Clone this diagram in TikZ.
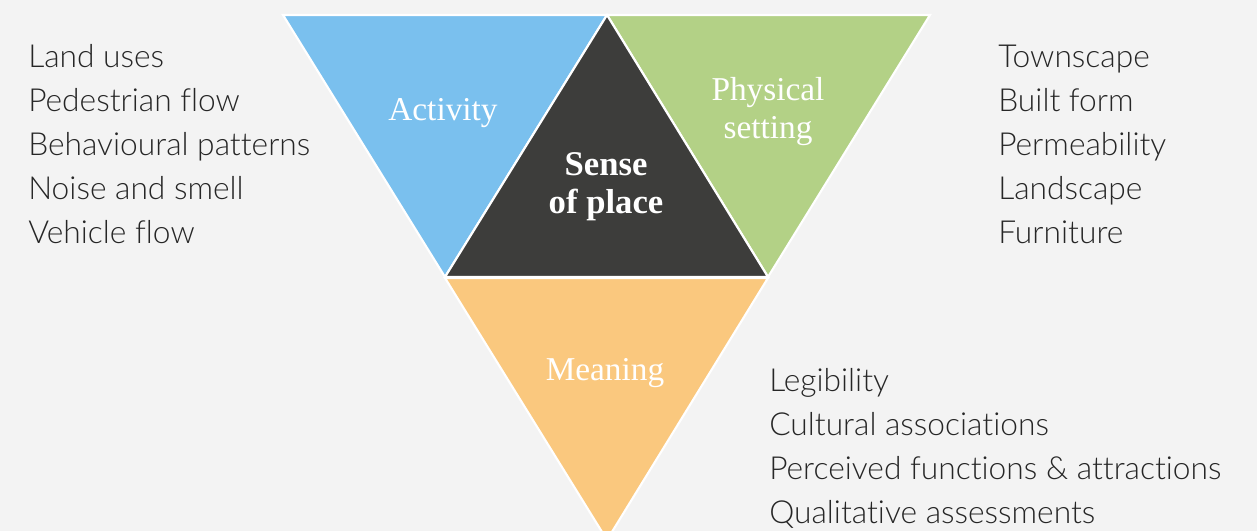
\documentclass[tikz,border=0pt]{standalone}
\usepackage{fontspec}
\setmainfont[Ligatures=NoCommon]{Lato Light}
\newfontfamily\headfont{Liberation Serif}
\definecolor{bgc}{HTML}{F3F3F3}
\definecolor{actc}{HTML}{7AC0EE}
\definecolor{physc}{HTML}{B3D186}
\definecolor{corec}{HTML}{3D3D3B}
\definecolor{meanc}{HTML}{FAC87E}
\definecolor{txtc}{HTML}{262626}
\begin{document}
\begin{tikzpicture}[x=0.75pt,y=-0.75pt,
  tri/.style={draw=white,line width=1.6pt,line join=miter},
  head/.style={text=white,font=\headfont\fontsize{25}{30}\selectfont,align=center,anchor=base},
  corehead/.style={head,font=\headfont\bfseries\fontsize{26}{30}\selectfont},
  item/.style={text=txtc,font=\fontsize{23.8}{28}\selectfont,anchor=base west,inner sep=0pt}]
  \fill[bgc] (0,0) rectangle (1257,531);
  \useasboundingbox (0,0) rectangle (1257,531);
  \begin{scope}
    \clip (0,0) rectangle (1257,531);
    % four triangles
    \filldraw[tri,fill=actc] (283,15) -- (607,15) -- (445,277) -- cycle;
    \filldraw[tri,fill=physc] (607,15) -- (930,15) -- (768,277) -- cycle;
    \filldraw[tri,fill=meanc] (445,278) -- (768,278) -- (607,540) -- cycle;
    \filldraw[tri,fill=corec] (607,15) -- (768,277) -- (445,277) -- cycle;
  \end{scope}
  % triangle labels
  \node[head] (act) at (443,121) {Activity};
  \node[head] (phys1) at (768,101) {Physical};
  \node[head] (phys2) at (768,139) {setting};
  \node[corehead] (core1) at (606,176) {Sense};
  \node[corehead] (core2) at (606,214) {of place};
  \node[head] (mean) at (605,380) {Meaning};
  % activity list
  \node[item] (a1) at (28,67.5) {Land uses};
  \node[item] (a2) at (28,111.5) {Pedestrian flow};
  \node[item] (a3) at (28,155.5) {Behavioural patterns};
  \node[item] (a4) at (28,199.5) {Noise and smell};
  \node[item] (a5) at (28,243.5) {Vehicle flow};
  % physical setting list
  \node[item] (p1) at (998,67.5) {Townscape};
  \node[item] (p2) at (998,111.5) {Built form};
  \node[item] (p3) at (998,155.5) {Permeability};
  \node[item] (p4) at (998,199.5) {Landscape};
  \node[item] (p5) at (998,243.5) {Furniture};
  % meaning list
  \node[item] (m1) at (769,391) {Legibility};
  \node[item] (m2) at (769,435) {Cultural associations};
  \node[item] (m3) at (769,479) {Perceived functions \& attractions};
  \node[item] (m4) at (769,523) {Qualitative assessments};
\end{tikzpicture}
\end{document}
